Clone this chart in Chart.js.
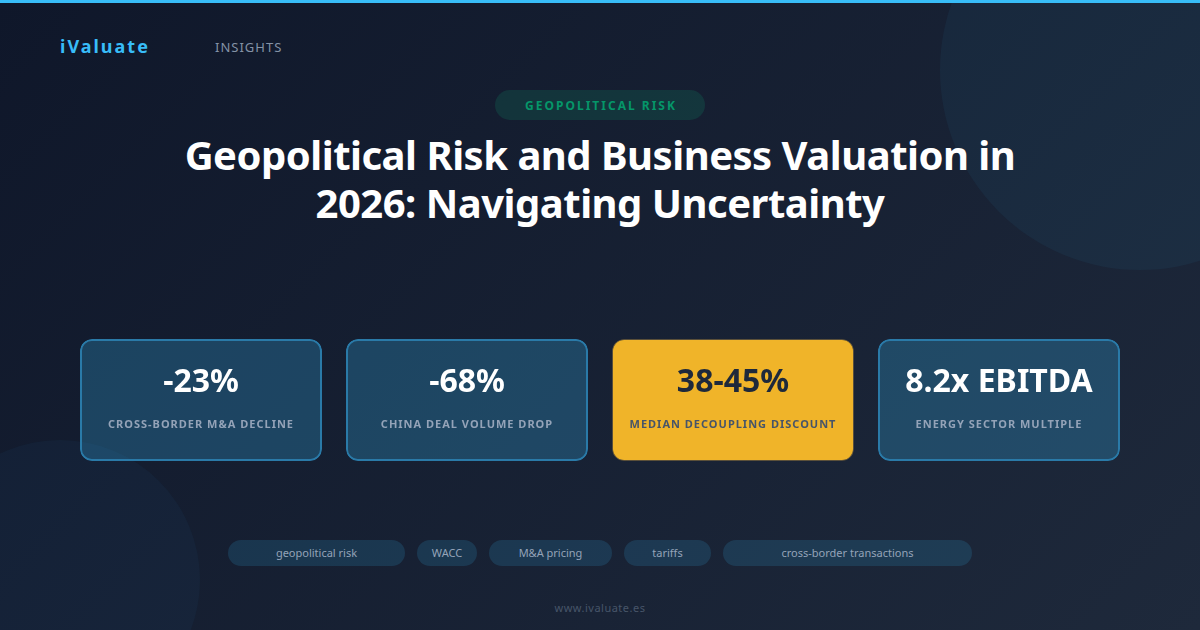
<!DOCTYPE html>
<html>
<head>
<meta charset="utf-8">
<script src="https://cdn.jsdelivr.net/npm/chart.js@4"></script>
<style>
  * { box-sizing: border-box; margin: 0; padding: 0; }
  html, body { width: 1200px; height: 630px; overflow: hidden; }
  body { position: relative; font-family: "Noto Sans", sans-serif; background: linear-gradient(135deg, #0f172a 0%, #1e293b 100%); }
  .abs { position: absolute; white-space: nowrap; }
  #topbar { left: 0; top: 0; width: 1200px; height: 3px; background: #38bdf8; z-index: 3; }
  .circle { position: absolute; border-radius: 50%; }
  #c1 { left: 940px; top: -130px; width: 400px; height: 400px; background: rgba(56, 189, 248, 0.05); }
  #c2 { left: -80px; top: 440px; width: 280px; height: 280px; background: rgba(56, 189, 248, 0.04); }
  #brand { left: 60px; top: 34px; font-size: 18px; font-weight: 700; letter-spacing: 2px; color: #38bdf8; line-height: 25px; }
  #section { left: 215px; top: 38px; font-size: 13px; letter-spacing: 1px; color: #8492a6; line-height: 18px; }
  #badge { left: 495px; top: 90px; width: 210px; height: 30px; padding-left: 2px; border-radius: 15px; background: rgba(16, 185, 129, 0.15); color: #059669; font-size: 12px; font-weight: 700; letter-spacing: 2px; line-height: 31px; text-align: center; }
  #title { left: 100px; top: 131px; width: 1000px; white-space: normal; text-align: center; color: #fff; font-size: 40px; font-weight: 700; letter-spacing: -0.5px; line-height: 48px; }
  #kpiChartWrap { position: absolute; left: 68px; top: 339px; width: 1064px; height: 122px; }
  .kpiValue, .kpiLabel { position: absolute; width: 242px; text-align: center; white-space: nowrap; }
  .kpiValue { top: 358px; font-size: 32px; font-weight: 700; line-height: 44px; color: #fff; }
  .kpiLabel { top: 416px; font-size: 11px; font-weight: 700; letter-spacing: 1px; line-height: 16px; color: #94a3b8; }
  .kpiValue.gold { color: #1e293b; }
  .kpiLabel.gold { color: #475569; }
  .tag { position: absolute; top: 540px; height: 26px; border-radius: 13px; background: rgba(56, 189, 248, 0.15); color: #94a3b8; font-size: 11px; line-height: 26px; text-align: center; white-space: nowrap; }
  #footer { left: 0; top: 600px; width: 1200px; text-align: center; font-size: 11px; letter-spacing: 0.5px; color: #475569; line-height: 16px; }
</style>
</head>
<body>
<div class="circle" id="c1"></div>
<div class="circle" id="c2"></div>
<div class="abs" id="topbar"></div>
<div class="abs" id="brand">iValuate</div>
<div class="abs" id="section">INSIGHTS</div>
<div class="abs" id="badge">GEOPOLITICAL RISK</div>
<div class="abs" id="title">Geopolitical Risk and Business Valuation in<br>2026: Navigating Uncertainty</div>
<div id="kpiChartWrap"><canvas id="kpiChart"></canvas></div>
<div id="overlay"></div>
<div class="abs" id="footer">www.ivaluate.es</div>

<script>
const kpiValues = ['-23%', '-68%', '38-45%', '8.2x EBITDA']
const kpiLabels = ['CROSS-BORDER M&A DECLINE', 'CHINA DEAL VOLUME DROP', 'MEDIAN DECOUPLING DISCOUNT', 'ENERGY SECTOR MULTIPLE']
const kpiHighlight = [false, false, true, false]
const tileHeights = [1, 1, 1, 1]
const tags = ['geopolitical risk', 'WACC', 'M&A pricing', 'tariffs', 'cross-border transactions']

const tagBoxes = [[228, 177], [417, 60], [489, 123], [624, 87], [723, 249]]

Chart.defaults.animation = false

new Chart(document.getElementById('kpiChart'), {
    type: 'bar',
    data: {
        labels: kpiLabels,
        datasets: [
            {
                data: tileHeights,
                backgroundColor: kpiHighlight.map(h => h ? '#f0b429' : 'rgba(56, 189, 248, 0.25)'),
                borderColor: kpiHighlight.map(h => h ? 'rgba(120, 100, 60, 0.7)' : '#2a7aa8'),
                borderWidth: kpiHighlight.map(h => h ? 1 : 2),
                borderRadius: 12,
                borderSkipped: false,
                barPercentage: 1,
                categoryPercentage: 242 / 266
            }
        ]
    },
    options: {
        responsive: true,
        maintainAspectRatio: false,
        layout: { padding: 0 },
        plugins: {
            legend: { display: false },
            tooltip: { enabled: false }
        },
        scales: {
            x: { display: false },
            y: { display: false, min: 0, max: 1 }
        }
    }
})

// card text and tag pills, from the arrays above
const overlay = document.getElementById('overlay')
kpiValues.forEach((v, i) => {
    const left = 80 + i * 266
    const val = document.createElement('div')
    val.className = 'kpiValue' + (kpiHighlight[i] ? ' gold' : '')
    val.style.left = left + 'px'
    val.textContent = v
    overlay.appendChild(val)
    const lab = document.createElement('div')
    lab.className = 'kpiLabel' + (kpiHighlight[i] ? ' gold' : '')
    lab.style.left = left + 'px'
    lab.textContent = kpiLabels[i]
    overlay.appendChild(lab)
})
tags.forEach((t, i) => {
    const el = document.createElement('div')
    el.className = 'tag'
    el.style.left = tagBoxes[i][0] + 'px'
    el.style.width = tagBoxes[i][1] + 'px'
    el.textContent = t
    overlay.appendChild(el)
})
</script>
</body>
</html>
